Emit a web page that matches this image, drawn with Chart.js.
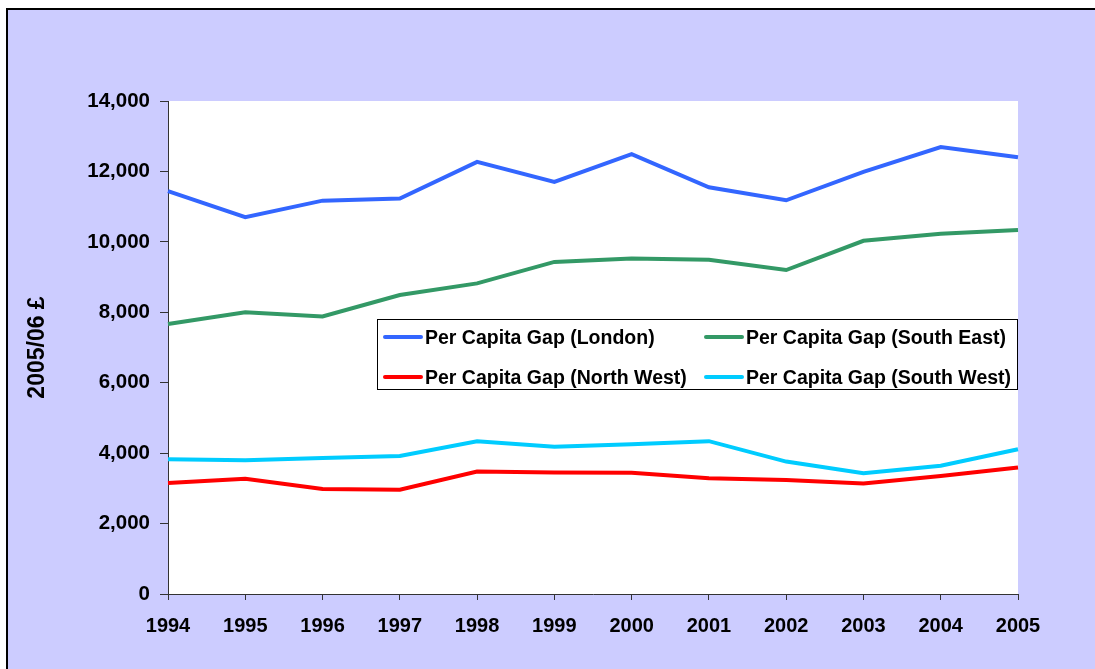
<!DOCTYPE html>
<html>
<head>
<meta charset="utf-8">
<script src="https://cdn.jsdelivr.net/npm/chart.js@4"></script>
<style>
html,body{margin:0;padding:0;background:#fff;}
#wrap{width:1095px;height:669px;position:relative;}
</style>
</head>
<body>
<div id="wrap"><canvas id="c" width="1095" height="669"></canvas></div>
<script>
const years = ['1994','1995','1996','1997','1998','1999','2000','2001','2002','2003','2004','2005'];
const london    = [11440, 10700, 11170, 11230, 12270, 11700, 12490, 11550, 11180, 11990, 12690, 12400];
const southEast = [7670, 8000, 7880, 8490, 8820, 9430, 9530, 9490, 9200, 10030, 10230, 10340];
const northWest = [3150, 3270, 2980, 2960, 3480, 3450, 3440, 3290, 3240, 3140, 3350, 3590];
const southWest = [3830, 3800, 3860, 3920, 4340, 4180, 4250, 4340, 3760, 3430, 3640, 4110];
const seriesLabels = ['Per Capita Gap (London)','Per Capita Gap (South East)','Per Capita Gap (North West)','Per Capita Gap (South West)'];
const seriesColors = ['#3366FF','#339966','#FF0000','#00CCFF'];
const yTitle = '2005/06 £';

const FONT = "'Liberation Sans', Arial, Helvetica, sans-serif";

function fmt(v){ return String(v).replace(/\B(?=(\d{3})+(?!\d))/g, ','); }

const bgPlugin = {
  id: 'bg',
  beforeDraw(chart){
    const ctx = chart.ctx, W = chart.width, H = chart.height, a = chart.chartArea;
    ctx.save();
    ctx.fillStyle = '#ffffff';
    ctx.fillRect(0,0,W,H);
    ctx.fillStyle = '#CCCCFF';
    ctx.fillRect(7,9,W-7,H-9);
    ctx.strokeStyle = '#000';
    ctx.lineWidth = 2;
    ctx.beginPath();
    ctx.moveTo(7,H); ctx.lineTo(7,9); ctx.lineTo(W,9);
    ctx.stroke();
    ctx.fillStyle = '#ffffff';
    ctx.fillRect(a.left, a.top, a.right-a.left, a.bottom-a.top);
    ctx.restore();
  }
};

const legendPlugin = {
  id: 'boxLegend',
  afterDatasetsDraw(chart){
    const ctx = chart.ctx;
    const bx = 377.5, by = 319.5, bw = 640, bh = 70;
    ctx.save();
    ctx.fillStyle = '#fff';
    ctx.fillRect(bx, by, bw, bh);
    ctx.strokeStyle = '#000';
    ctx.lineWidth = 1;
    ctx.strokeRect(bx, by, bw, bh);
    const cols = [385, 706];
    const rows = [338, 378];
    ctx.font = 'bold 19.5px ' + FONT;
    ctx.textBaseline = 'middle';
    ctx.textAlign = 'left';
    chart.data.datasets.forEach((ds, i) => {
      const cx = cols[i % 2], cy = rows[Math.floor(i / 2)];
      ctx.strokeStyle = ds.borderColor;
      ctx.lineWidth = 4;
      ctx.lineCap = 'round';
      ctx.beginPath();
      ctx.moveTo(cx, cy - 1); ctx.lineTo(cx + 36, cy - 1);
      ctx.stroke();
      ctx.fillStyle = '#000';
      ctx.fillText(ds.label, cx + 40, cy + 1);
    });
    ctx.restore();
  }
};

const allSeries = [london, southEast, northWest, southWest];

new Chart(document.getElementById('c'), {
  type: 'line',
  data: {
    labels: years,
    datasets: allSeries.map((d, i) => ({
      label: seriesLabels[i],
      data: d,
      borderColor: seriesColors[i],
      backgroundColor: seriesColors[i],
      borderWidth: 4,
      pointRadius: 0,
      tension: 0,
      fill: false
    }))
  },
  options: {
    responsive: false,
    animation: false,
    devicePixelRatio: 1,
    layout: { padding: { top: 101, right: 77, left: 0, bottom: 0 } },
    plugins: { legend: { display: false }, tooltip: { enabled: false } },
    scales: {
      x: {
        offset: false,
        afterFit(s){ s.height = 75; },
        grid: { drawOnChartArea: false, drawTicks: true, tickLength: 6, color: '#333', offset: false },
        border: { display: true, color: '#333', width: 1 },
        ticks: { color: '#000', font: { family: FONT, size: 20, weight: 'bold' }, padding: 14, maxRotation: 0, autoSkip: false }
      },
      y: {
        min: 0, max: 14000,
        afterFit(s){ s.width = 168; },
        grid: { drawOnChartArea: false, drawTicks: true, tickLength: 8, color: '#333' },
        border: { display: true, color: '#333', width: 1 },
        ticks: { stepSize: 2000, color: '#000', font: { family: FONT, size: 20.5, weight: 'bold' }, padding: 10, callback: v => fmt(v) },
        title: { display: true, text: yTitle, color: '#000', font: { family: FONT, size: 23, weight: 'bold' }, padding: { top: 24, bottom: 0 } }
      }
    }
  },
  plugins: [bgPlugin, legendPlugin]
});
</script>
</body>
</html>
